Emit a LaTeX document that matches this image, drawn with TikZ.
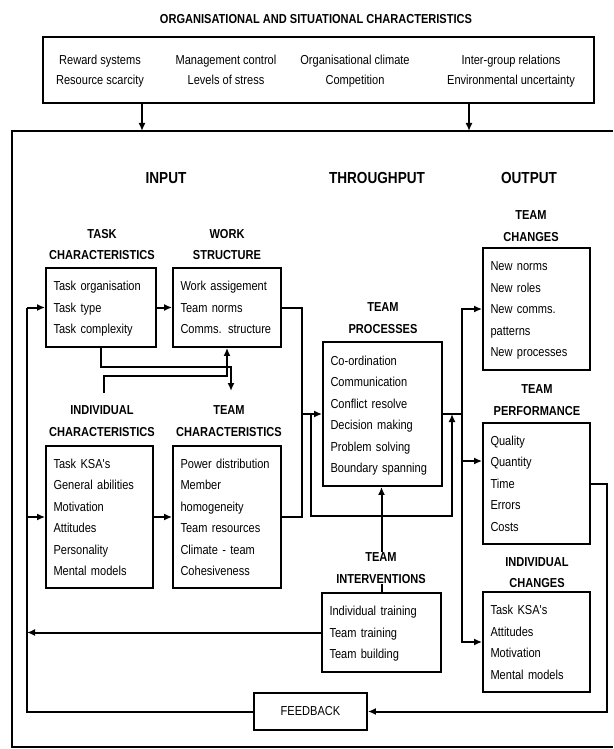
\documentclass[tikz,border=0pt]{standalone}
\usepackage{fontspec}
\newfontfamily\nar[FakeStretch=0.85]{Liberation Sans}
\usetikzlibrary{arrows.meta}
\pgfdeclarelayer{bg}
\pgfsetlayers{bg,main}
\newcommand\bodyfont{\nar\fontsize{13}{21.5}\selectfont}
\newcommand\labfont{\nar\bfseries\fontsize{13}{21.5}\selectfont}
\newcommand\bigfont{\nar\bfseries\fontsize{16}{19}\selectfont}
\newcommand\colfont{\nar\fontsize{13}{20}\selectfont}
\newcommand\boxstrut{\rule[-6pt]{0pt}{21.5pt}}
\newcommand\colstrut{\rule[-5.35pt]{0pt}{20pt}}
\begin{document}
\begin{tikzpicture}[x=1pt,y=-1pt,
  box/.style={draw, line width=1.8pt, inner xsep=7.5pt, inner ysep=0pt, align=left, font=\bodyfont,
    execute at begin node=\boxstrut, execute at end node=\boxstrut},
  lab/.style={font=\labfont, align=center, fill=white, inner sep=1pt},
  head/.style={font=\bigfont, inner sep=1pt},
  col/.style={font=\colfont, align=center, inner sep=0pt,
    execute at begin node=\colstrut, execute at end node=\colstrut},
  link/.style={line width=2pt},
  arr/.style={line width=2pt, -{Latex[length=8pt,width=7pt]}},
]
\useasboundingbox (0,0) rectangle (613,749);

% title and organisational box
\node[font=\labfont, inner sep=1pt] (title) at (316,19) {ORGANISATIONAL AND SITUATIONAL CHARACTERISTICS};
\node[draw, line width=1.8pt, minimum width=551pt, minimum height=66pt, inner sep=0pt] (org) at (318.5,70) {};
\node[col] (c1) at (100,72.5) {Reward systems\\Resource scarcity};
\node[col] (c2) at (226,72.5) {Management control\\Levels of stress};
\node[col] (c3) at (355,72.5) {Organisational climate\\Competition};
\node[col] (c4) at (511,72.5) {Inter-group relations\\Environmental uncertainty};

% frame
\coordinate (fa) at (142,131);
\coordinate (fb) at (469,131);
\draw[line width=1.8pt] (613,131) -- (12,131) -- (12,747) -- (613,747);

% column headings
\node[head] (input) at (166,178) {INPUT};
\node[head] (through) at (377,178) {THROUGHPUT};
\node[head] (output) at (529,178) {OUTPUT};

% boxes
\node[box, text width=95pt, minimum height=79pt] (task) at (101,307.5) {Task organisation\\Task type\\Task complexity};
\node[box, text width=93pt, minimum height=79pt] (work) at (227,307.5) {Work assigement\\Team norms\\Comms. structure};
\node[box, text width=92pt, minimum height=142pt] (indiv) at (99.5,517) {Task KSA's\\General abilities\\Motivation\\Attitudes\\Personality\\Mental models};
\node[box, text width=93pt, minimum height=142pt] (teamc) at (227,517) {Power distribution\\Member\\homogeneity\\Team resources\\Climate - team\\Cohesiveness};
\node[box, text width=104pt, minimum height=144pt] (proc) at (382.5,414) {Co-ordination\\Communication\\Conflict resolve\\Decision making\\Problem solving\\Boundary spanning};
\node[box, text width=92pt, minimum height=122pt] (tch) at (536.5,309) {New norms\\New roles\\New comms.\\patterns\\New processes};
\node[box, text width=92pt, minimum height=121pt] (tperf) at (536.5,483.5) {Quality\\Quantity\\Time\\Errors\\Costs};
\node[box, text width=92pt, minimum height=100pt] (ich) at (536.5,642) {Task KSA's\\Attitudes\\Motivation\\Mental models};
\node[box, text width=104pt, minimum height=79pt] (interv) at (381.5,632.5) {Individual training\\Team training\\Team building};
\node[draw, line width=1.8pt, minimum width=113pt, minimum height=37pt, inner sep=0pt, font=\bodyfont] (feedback) at (310.5,711.5) {FEEDBACK};

% labels
\node[lab] (taskl) at (102,244.5) {TASK\\CHARACTERISTICS};
\node[lab] (workl) at (227,244.5) {WORK\\STRUCTURE};
\node[lab] (indivl) at (102,421) {INDIVIDUAL\\CHARACTERISTICS};
\node[lab] (teamcl) at (229,421) {TEAM\\CHARACTERISTICS};
\node[lab] (procl) at (383,318) {TEAM\\PROCESSES};
\node[lab] (tchl) at (531,226) {TEAM\\CHANGES};
\node[lab] (tperfl) at (537,400) {TEAM\\PERFORMANCE};
\node[lab] (ichl) at (537,572.5) {INDIVIDUAL\\CHANGES};
\node[lab] (intervl) at (381,568) {TEAM\\INTERVENTIONS};

% helper coordinates
\coordinate (lx) at (27,0);
\coordinate (rx) at (607,0);
\coordinate (ox) at (462,0);
\coordinate (ix) at (302,0);
\coordinate (pa) at (462,461);
\coordinate (lp1) at (311,516);
\coordinate (lp2) at (452,516);
\coordinate (a1) at (101,367);
\coordinate (a2) at (231,367);
\coordinate (a3) at (231,391);
\coordinate (b0) at (104,393);
\coordinate (b1) at (104,376);
\coordinate (b2) at (227,376);

\begin{pgfonlayer}{bg}
% from organisational box into the frame
\draw[arr] (org.south -| fa) -- (fa);
\draw[arr] (org.south -| fb) -- (fb);
% input links
\draw[arr] (task.east) -- (work.west);
\draw[arr] (indiv.east) -- (teamc.west);
\draw[arr] (task.south -| a1) -- (a1) -- (a2) -- (a3);
\draw[arr] (b0) -- (b1) -- (b2) -- (b2 |- work.south);
% input bus into processes
\draw[link] (work.east) -| (ix |- teamc.east) -- (teamc.east);
\draw[arr] (proc.west -| ix) -- (proc.west);
\draw[arr] (proc.west -| lp1) -- (lp1) -- (lp2) -- (proc.east -| lp2);
% output bus
\draw[link] (proc.east) -- (proc.east -| ox);
\draw[arr] (proc.east -| ox) |- (tch.west);
\draw[arr] (proc.east -| ox) |- (ich.west);
\draw[arr] (pa) -- (pa -| tperf.west);
% interventions
\draw[arr] (interv.north) -- (interv.north |- proc.south);
\draw[arr] (interv.west) -- (interv.west -| lx);
% feedback loop
\draw[arr] (tperf.east) -| (rx |- feedback.east) -- (feedback.east);
\draw[link] (feedback.west) -| (lx |- task.west);
\draw[arr] (lx |- task.west) -- (task.west);
\draw[arr] (lx |- indiv.west) -- (indiv.west);
\end{pgfonlayer}
\end{tikzpicture}
\end{document}
